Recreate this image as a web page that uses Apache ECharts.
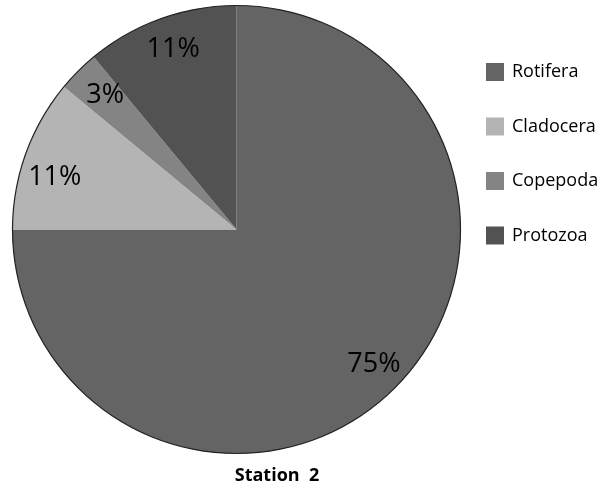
<!DOCTYPE html>
<html>
<head>
<meta charset="utf-8">
<title>Station 2</title>
<script src="https://cdn.jsdelivr.net/npm/echarts@6/dist/echarts.min.js"></script>
<style>
  html, body { margin: 0; padding: 0; background: #ffffff; }
  #chart { width: 608px; height: 487px; }
</style>
</head>
<body>
<div id="chart"></div>
<script>
// Zooplankton composition at station 2 (percent of total)
const groups = ['Rotifera', 'Cladocera', 'Copepoda', 'Protozoa'];
const shares = [75, 11, 3, 11];
const groupColors = ['#646464', '#b4b4b4', '#848484', '#525252'];
const stationTitle = 'Station  2';

const cx = 236.5, cy = 229.5, R = 224;

// small label nudges (pixels) so the percentages sit comfortably in their slices
const labelNudge = { Rotifera: [3, 0], Cladocera: [-3, 12], Copepoda: [3, 0], Protozoa: [1, -1] };

const sliceData = groups.map((g, i) => ({
  name: g,
  value: shares[i],
  itemStyle: { color: groupColors[i] }
}));

const chart = echarts.init(document.getElementById('chart'), null, { renderer: 'canvas' });

chart.setOption({
  animation: false,
  backgroundColor: '#ffffff',
  title: {
    text: stationTitle,
    left: 272,
    top: 462,
    textAlign: 'center',
    textStyle: {
      fontFamily: 'Open Sans',
      fontWeight: 'bold',
      fontSize: 18,
      color: '#000000'
    }
  },
  legend: {
    orient: 'vertical',
    left: 481,
    top: 58,
    itemWidth: 18,
    itemHeight: 18,
    itemGap: 36.5,
    icon: 'rect',
    data: groups,
    selectedMode: false,
    textStyle: {
      fontFamily: 'Open Sans',
      fontSize: 18,
      color: '#000000',
      padding: [0, 0, 0, 3]
    }
  },
  series: [
    {
      // filled slices
      type: 'pie',
      center: [cx, cy],
      radius: [0, R],
      startAngle: 90,
      clockwise: true,
      silent: true,
      label: { show: false },
      labelLine: { show: false },
      itemStyle: { borderWidth: 0 },
      data: sliceData
    },
    {
      // transparent ring carrying the percentage labels toward the rim
      type: 'pie',
      center: [cx, cy],
      radius: [150, R],
      startAngle: 90,
      clockwise: true,
      silent: true,
      itemStyle: { color: 'rgba(0,0,0,0)', borderWidth: 0 },
      label: {
        show: true,
        position: 'inside',
        formatter: p => p.value + '%',
        fontFamily: 'Open Sans',
        fontSize: 27,
        color: '#000000'
      },
      labelLine: { show: false },
      data: groups.map((g, i) => ({
        name: g,
        value: shares[i],
        label: { offset: labelNudge[g] }
      }))
    },
    {
      // thin outline around the disc
      type: 'pie',
      center: [cx, cy],
      radius: [R - 0.6, R + 0.6],
      silent: true,
      label: { show: false },
      labelLine: { show: false },
      itemStyle: { color: '#222222', borderWidth: 0 },
      data: [{ name: 'outline', value: 1 }]
    }
  ]
});
</script>
</body>
</html>
